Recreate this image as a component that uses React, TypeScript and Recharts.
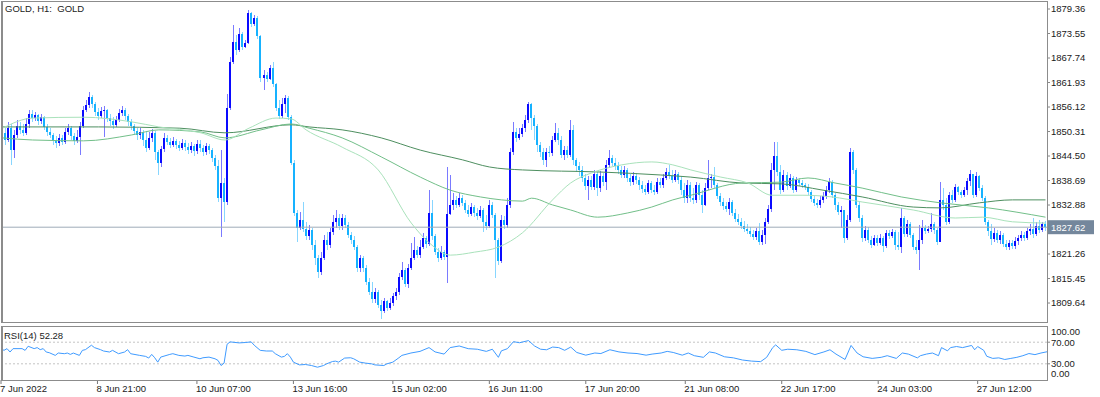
import { ComposedChart, Bar, Line, XAxis, YAxis, ReferenceLine } from 'recharts';

const FONT = "'Liberation Sans', Arial, sans-serif";
const BULL = '#0a0aff';
const BULL_WICK = '#7a7aff';
const BEAR = '#16b2ff';
const BEAR_WICK = '#88d6ff';

// GOLD H1 candles, 7 Jun - 27 Jun 2022 (open of each bar = previous close)
const firstOpen = 1846.6;
const closes = [
  1850.0, 1848.3, 1851.1, 1845.9, 1849.5, 1851.6, 1850.7, 1850.0, 1852.1, 1854.5,
  1853.5, 1854.2, 1852.8, 1853.7, 1851.4, 1850.2, 1849.5, 1848.3, 1847.6, 1848.8,
  1847.8, 1850.2, 1851.1, 1849.2, 1848.1, 1849.0, 1851.6, 1855.4, 1856.6, 1858.5,
  1856.8, 1854.9, 1853.9, 1855.2, 1855.4, 1853.5, 1852.8, 1851.9, 1853.0, 1854.7,
  1855.4, 1853.9, 1852.6, 1851.6, 1850.4, 1849.5, 1850.2, 1848.3, 1846.4, 1848.8,
  1850.0, 1845.4, 1842.8, 1846.2, 1848.8, 1847.8, 1847.1, 1848.1, 1847.1, 1846.4,
  1847.6, 1846.6, 1845.9, 1846.9, 1845.7, 1847.4, 1846.4, 1845.4, 1846.9, 1845.9,
  1844.0, 1842.1, 1834.5, 1838.1, 1833.6, 1855.9, 1866.8, 1871.5, 1869.6, 1873.4,
  1870.4, 1871.3, 1878.4, 1875.8, 1877.2, 1873.0, 1863.0, 1863.7, 1862.8, 1865.4,
  1861.6, 1855.9, 1853.9, 1856.8, 1858.3, 1853.7, 1842.8, 1831.0, 1827.4, 1829.3,
  1827.2, 1825.5, 1827.0, 1823.4, 1820.3, 1817.0, 1820.3, 1824.6, 1823.4, 1826.5,
  1828.9, 1829.8, 1827.9, 1829.8, 1828.1, 1825.8, 1824.6, 1822.9, 1817.9, 1820.3,
  1817.9, 1814.6, 1812.3, 1810.6, 1812.3, 1809.2, 1807.8, 1810.1, 1808.5, 1809.7,
  1811.3, 1812.3, 1815.8, 1817.5, 1814.2, 1817.9, 1820.3, 1822.2, 1821.0, 1822.9,
  1825.1, 1823.6, 1831.0, 1825.5, 1821.7, 1820.3, 1821.7, 1820.5, 1830.8, 1832.9,
  1834.1, 1832.9, 1834.5, 1833.4, 1831.7, 1830.8, 1832.4, 1831.0, 1830.3, 1831.7,
  1828.9, 1827.9, 1832.9, 1830.5, 1824.6, 1819.6, 1829.3, 1828.1, 1832.9, 1845.4,
  1850.2, 1848.8, 1849.7, 1851.1, 1853.0, 1856.8, 1853.5, 1851.6, 1847.1, 1845.4,
  1843.6, 1845.4, 1845.2, 1848.3, 1850.0, 1848.3, 1844.7, 1845.9, 1844.7, 1850.7,
  1843.6, 1842.1, 1841.2, 1839.3, 1837.4, 1838.8, 1837.2, 1840.2, 1836.9, 1839.8,
  1838.3, 1842.4, 1844.0, 1842.8, 1842.1, 1841.2, 1840.0, 1841.2, 1839.3, 1838.3,
  1839.8, 1838.8, 1837.6, 1836.7, 1836.0, 1838.1, 1836.4, 1836.0, 1838.3, 1837.6,
  1839.3, 1840.7, 1839.8, 1838.8, 1840.2, 1838.8, 1836.4, 1834.5, 1837.6, 1834.5,
  1834.1, 1837.6, 1835.2, 1832.9, 1836.9, 1839.3, 1839.5, 1837.6, 1835.0, 1833.6,
  1832.6, 1831.9, 1833.6, 1831.0, 1829.6, 1828.9, 1827.9, 1827.2, 1826.7, 1826.0,
  1825.3, 1826.7, 1824.1, 1825.8, 1828.9, 1831.9, 1841.2, 1844.5, 1840.7, 1836.4,
  1840.0, 1837.4, 1839.3, 1836.4, 1838.8, 1838.1, 1837.6, 1837.2, 1836.0, 1834.3,
  1833.4, 1832.9, 1834.1, 1835.0, 1836.4, 1838.3, 1835.2, 1832.9, 1831.2, 1831.7,
  1825.1, 1829.3, 1845.4, 1841.2, 1832.9, 1829.8, 1825.1, 1827.0, 1824.6, 1823.4,
  1825.1, 1823.9, 1825.1, 1823.2, 1826.3, 1825.5, 1826.5, 1823.4, 1822.9, 1829.8,
  1826.0, 1828.4, 1825.8, 1822.9, 1822.2, 1824.6, 1827.4, 1826.7, 1827.2, 1828.4,
  1827.0, 1824.1, 1834.1, 1832.9, 1828.9, 1835.2, 1834.1, 1837.2, 1836.0, 1835.2,
  1836.4, 1838.6, 1840.2, 1835.2, 1839.8, 1836.9, 1834.5, 1828.9, 1826.7, 1824.8,
  1826.3, 1824.6, 1825.8, 1823.6, 1822.9, 1823.9, 1823.2, 1824.4, 1825.1, 1825.8,
  1825.1, 1826.7, 1827.2, 1826.0, 1827.9, 1827.0, 1828.4, 1827.62,
];
const highs = [
  1851.9, 1851.1, 1852.6, 1852.1, 1850.7, 1853.0, 1852.6, 1852.1, 1853.5, 1855.4,
  1855.4, 1854.9, 1854.5, 1854.5, 1853.9, 1852.1, 1851.1, 1850.0, 1849.2, 1849.7,
  1849.5, 1851.1, 1852.1, 1851.6, 1850.0, 1850.7, 1852.6, 1856.4, 1857.8, 1859.7,
  1859.0, 1857.3, 1855.9, 1856.1, 1856.4, 1855.6, 1854.5, 1853.7, 1853.9, 1855.6,
  1856.4, 1855.9, 1854.5, 1853.3, 1852.1, 1851.1, 1851.1, 1850.7, 1850.4, 1850.2,
  1850.9, 1850.4, 1845.9, 1846.9, 1850.0, 1849.5, 1848.8, 1849.0, 1848.5, 1848.1,
  1848.5, 1848.3, 1847.6, 1847.8, 1847.4, 1848.3, 1848.3, 1847.1, 1847.6, 1847.4,
  1846.4, 1844.7, 1843.6, 1845.9, 1839.3, 1859.2, 1868.0, 1875.6, 1873.2, 1874.9,
  1873.9, 1872.0, 1879.1, 1878.6, 1877.9, 1877.7, 1873.2, 1864.9, 1864.4, 1866.1,
  1866.8, 1861.8, 1857.8, 1858.3, 1859.0, 1858.7, 1854.2, 1843.6, 1831.7, 1831.2,
  1833.6, 1828.9, 1828.1, 1827.4, 1824.6, 1821.0, 1821.7, 1825.8, 1826.5, 1827.4,
  1830.5, 1831.7, 1830.8, 1830.8, 1830.5, 1828.9, 1826.5, 1825.5, 1823.4, 1821.0,
  1820.8, 1818.7, 1815.6, 1814.6, 1813.2, 1812.7, 1810.4, 1810.8, 1810.4, 1810.8,
  1812.0, 1813.2, 1816.8, 1819.4, 1817.9, 1818.9, 1823.9, 1825.3, 1823.2, 1824.6,
  1826.3, 1825.5, 1836.4, 1834.1, 1826.0, 1822.7, 1823.2, 1822.2, 1841.9, 1840.0,
  1835.7, 1835.0, 1835.7, 1835.2, 1834.1, 1832.9, 1833.4, 1832.9, 1832.2, 1832.6,
  1832.2, 1830.5, 1834.1, 1833.6, 1831.0, 1825.1, 1830.5, 1830.3, 1834.5, 1846.4,
  1852.6, 1851.1, 1851.1, 1852.1, 1854.2, 1857.3, 1857.0, 1854.2, 1852.1, 1847.8,
  1846.4, 1846.4, 1846.9, 1849.2, 1852.3, 1851.1, 1849.2, 1846.9, 1846.9, 1853.0,
  1851.9, 1844.0, 1843.1, 1842.1, 1840.2, 1839.8, 1839.8, 1841.2, 1840.7, 1840.9,
  1840.5, 1843.6, 1845.9, 1844.7, 1844.0, 1843.1, 1842.1, 1842.1, 1841.7, 1840.2,
  1840.7, 1840.5, 1839.5, 1838.6, 1837.6, 1838.8, 1838.6, 1837.6, 1839.3, 1839.3,
  1840.2, 1841.7, 1842.4, 1841.2, 1841.2, 1840.7, 1839.8, 1838.1, 1838.8, 1838.3,
  1836.9, 1838.3, 1838.1, 1836.4, 1838.1, 1843.6, 1840.2, 1841.9, 1838.1, 1835.7,
  1834.5, 1833.6, 1834.5, 1834.1, 1831.9, 1830.8, 1829.8, 1829.1, 1828.4, 1827.7,
  1827.0, 1827.4, 1828.6, 1827.0, 1829.8, 1832.9, 1842.8, 1847.8, 1847.8, 1842.4,
  1841.2, 1840.7, 1840.2, 1839.8, 1839.5, 1839.3, 1838.8, 1838.1, 1837.9, 1836.4,
  1835.0, 1834.3, 1835.0, 1836.0, 1837.4, 1839.3, 1838.8, 1835.7, 1833.6, 1832.6,
  1831.7, 1830.5, 1846.4, 1845.9, 1841.7, 1833.6, 1830.5, 1827.9, 1827.7, 1825.5,
  1825.8, 1825.8, 1826.0, 1825.5, 1827.0, 1827.0, 1827.2, 1827.0, 1826.5, 1832.2,
  1830.3, 1829.3, 1828.9, 1826.3, 1824.6, 1828.1, 1829.3, 1828.1, 1827.9, 1831.0,
  1828.9, 1827.4, 1838.3, 1836.9, 1834.5, 1836.0, 1836.4, 1837.9, 1837.4, 1836.4,
  1837.2, 1839.3, 1841.2, 1840.2, 1840.7, 1840.0, 1837.6, 1835.0, 1829.3, 1828.4,
  1827.4, 1827.0, 1826.7, 1826.3, 1824.6, 1824.6, 1824.6, 1825.3, 1825.8, 1826.7,
  1826.5, 1827.4, 1828.4, 1829.8, 1828.9, 1829.3, 1828.9, 1829.1,
];
const lows = [
  1845.9, 1847.1, 1847.8, 1842.4, 1844.0, 1848.8, 1849.7, 1849.2, 1849.5, 1851.1,
  1852.6, 1852.8, 1851.9, 1852.1, 1850.7, 1849.2, 1848.8, 1847.1, 1846.4, 1846.9,
  1847.1, 1847.4, 1849.5, 1848.3, 1847.1, 1847.6, 1844.7, 1851.1, 1854.9, 1855.9,
  1855.9, 1853.9, 1853.0, 1853.5, 1849.0, 1852.6, 1851.6, 1850.9, 1851.4, 1852.6,
  1853.9, 1853.0, 1851.6, 1850.7, 1849.5, 1848.3, 1848.5, 1846.9, 1845.4, 1845.9,
  1847.8, 1843.6, 1840.0, 1841.9, 1845.4, 1847.1, 1846.4, 1846.6, 1846.2, 1845.7,
  1845.9, 1845.7, 1845.0, 1845.2, 1844.5, 1845.0, 1845.4, 1844.5, 1844.7, 1845.0,
  1843.1, 1841.2, 1833.6, 1825.3, 1828.9, 1832.9, 1855.4, 1866.3, 1868.5, 1869.2,
  1869.6, 1870.1, 1871.1, 1875.1, 1875.3, 1872.3, 1862.1, 1860.2, 1862.1, 1862.5,
  1860.9, 1855.2, 1853.3, 1853.5, 1854.7, 1853.0, 1842.4, 1830.3, 1824.1, 1827.0,
  1826.5, 1824.6, 1824.6, 1822.2, 1818.7, 1815.6, 1816.3, 1819.8, 1822.2, 1822.7,
  1825.8, 1827.4, 1827.0, 1827.0, 1827.4, 1825.1, 1823.6, 1822.2, 1817.0, 1817.0,
  1817.0, 1813.9, 1811.6, 1809.7, 1809.7, 1808.5, 1805.9, 1807.3, 1807.8, 1808.0,
  1808.9, 1810.4, 1811.6, 1815.1, 1813.5, 1813.2, 1817.5, 1819.8, 1820.3, 1820.3,
  1822.5, 1822.7, 1823.2, 1824.6, 1821.0, 1819.4, 1819.8, 1819.8, 1814.4, 1830.5,
  1831.7, 1832.2, 1832.4, 1832.6, 1831.0, 1830.0, 1830.3, 1830.0, 1829.3, 1829.8,
  1826.5, 1827.0, 1827.4, 1829.8, 1815.6, 1818.7, 1819.1, 1827.2, 1827.4, 1832.2,
  1844.7, 1847.8, 1848.3, 1849.0, 1850.2, 1852.3, 1850.7, 1848.3, 1845.4, 1844.3,
  1842.4, 1841.9, 1844.3, 1844.5, 1847.8, 1847.1, 1844.0, 1843.6, 1844.0, 1844.3,
  1842.4, 1840.7, 1839.8, 1838.3, 1836.4, 1834.1, 1836.4, 1836.4, 1835.0, 1836.0,
  1837.4, 1836.4, 1841.7, 1842.1, 1841.2, 1840.2, 1839.3, 1839.3, 1838.3, 1837.4,
  1837.6, 1837.9, 1836.4, 1835.7, 1835.2, 1835.5, 1835.7, 1835.2, 1835.5, 1836.9,
  1836.9, 1838.8, 1839.0, 1838.1, 1838.3, 1837.9, 1835.2, 1833.4, 1833.4, 1833.6,
  1833.1, 1833.4, 1834.1, 1831.0, 1832.6, 1836.4, 1836.9, 1836.9, 1834.3, 1832.6,
  1831.7, 1831.2, 1830.5, 1830.3, 1828.9, 1828.1, 1827.2, 1826.5, 1826.0, 1825.3,
  1824.6, 1824.6, 1823.4, 1823.4, 1823.6, 1828.4, 1831.2, 1836.4, 1839.8, 1835.5,
  1836.0, 1836.4, 1836.9, 1835.7, 1836.0, 1837.4, 1836.9, 1836.4, 1835.2, 1833.6,
  1832.6, 1832.2, 1832.2, 1833.4, 1834.3, 1835.7, 1834.5, 1831.7, 1830.5, 1827.4,
  1823.9, 1824.6, 1828.9, 1840.2, 1832.2, 1828.9, 1824.1, 1824.4, 1823.9, 1822.7,
  1823.2, 1823.2, 1823.4, 1821.7, 1822.7, 1824.8, 1825.1, 1822.2, 1822.2, 1821.5,
  1825.3, 1825.3, 1825.1, 1822.2, 1821.3, 1817.5, 1823.6, 1826.0, 1826.3, 1826.5,
  1826.0, 1823.4, 1824.1, 1831.7, 1828.1, 1828.4, 1833.4, 1833.6, 1835.2, 1834.5,
  1834.8, 1835.2, 1837.4, 1834.5, 1834.8, 1836.2, 1833.8, 1828.1, 1825.5, 1823.4,
  1824.1, 1823.9, 1823.6, 1822.9, 1822.2, 1822.2, 1822.5, 1822.5, 1823.4, 1824.4,
  1824.4, 1824.6, 1825.8, 1825.1, 1825.5, 1826.3, 1826.5, 1826.7,
];

// moving averages, read at [bar index, price]
const maSlow = [
  [0, 1851.4], [32, 1851.4], [59, 1851.1], [74, 1850.0], [96, 1851.9], [102, 1851.4],
  [113, 1850.7], [126, 1848.8], [139, 1845.9], [153, 1843.6], [162, 1841.9], [173, 1841.2],
  [199, 1840.7], [219, 1840.0], [229, 1839.5], [246, 1838.1], [259, 1837.9], [273, 1836.4],
  [286, 1834.8], [303, 1832.4], [312, 1832.2], [325, 1833.4], [336, 1834.1], [347, 1834.1],
];
const maMid = [
  [0, 1848.8], [10, 1848.3], [27, 1848.1], [43, 1849.5], [52, 1850.7], [66, 1850.2],
  [74, 1848.8], [86, 1850.7], [96, 1852.1], [102, 1851.1], [113, 1848.8], [126, 1844.3],
  [139, 1839.5], [149, 1836.4], [159, 1834.8], [166, 1834.1], [173, 1833.8], [176, 1834.5],
  [183, 1832.9], [189, 1831.7], [198, 1830.0], [208, 1831.0], [216, 1832.4], [223, 1834.1],
  [229, 1835.2], [246, 1838.1], [259, 1838.3], [268, 1839.3], [277, 1838.1], [286, 1836.9],
  [299, 1834.8], [312, 1833.4], [328, 1832.2], [347, 1830.0],
];
const maFast = [
  [0, 1851.1], [10, 1853.5], [27, 1853.7], [43, 1852.6], [52, 1851.4], [66, 1850.0],
  [74, 1848.3], [82, 1851.1], [91, 1853.5], [96, 1853.3], [101, 1850.7], [113, 1846.6],
  [125, 1841.2], [136, 1828.6], [142, 1823.9], [149, 1821.0], [157, 1821.7], [165, 1822.9],
  [173, 1826.3], [183, 1834.1], [189, 1838.1], [196, 1840.5], [206, 1842.4], [216, 1843.1],
  [223, 1842.4], [229, 1841.2], [239, 1839.5], [248, 1838.1], [256, 1835.2], [266, 1835.2],
  [276, 1834.8], [286, 1833.6], [303, 1831.7], [317, 1829.8], [326, 1830.0], [336, 1828.9],
  [347, 1828.6],
];

// RSI(14), read at [bar index, value]
const rsiPoints = [
  [0, 58.1], [1, 54.9], [2, 58.1], [3, 51.8], [4, 58.1], [7, 58.1], [8, 54.9], [9, 62.5],
  [11, 58.1], [12, 60.0], [13, 56.2], [14, 58.1], [15, 51.8], [16, 50.6], [18, 45.6], [19, 50.0],
  [21, 48.7], [22, 49.9], [23, 47.4], [24, 49.9], [26, 45.6], [27, 54.9], [28, 56.2], [30, 64.4],
  [31, 60.0], [33, 56.2], [34, 53.7], [36, 51.8], [37, 54.9], [39, 48.7], [41, 51.8], [42, 56.2],
  [43, 48.7], [46, 45.6], [48, 43.7], [49, 40.6], [50, 47.4], [51, 41.2], [52, 33.1], [53, 42.4],
  [56, 47.4], [57, 48.7], [59, 45.6], [61, 44.3], [62, 45.6], [64, 42.4], [66, 39.3], [67, 41.2],
  [69, 42.4], [71, 39.3], [72, 36.2], [73, 26.8], [74, 31.2], [75, 66.2], [76, 70.6], [79, 68.7],
  [81, 69.4], [83, 70.6], [84, 64.4], [86, 54.9], [88, 53.7], [90, 53.7], [91, 48.7], [93, 42.4],
  [94, 43.7], [95, 48.7], [96, 42.4], [97, 33.1], [99, 28.0], [101, 28.7], [103, 26.8], [105, 23.7],
  [107, 26.8], [108, 29.9], [110, 34.3], [111, 34.9], [112, 33.1], [114, 40.6], [116, 41.2], [117, 39.3],
  [119, 33.1], [121, 31.2], [123, 29.9], [124, 28.0], [127, 26.8], [128, 29.9], [130, 33.1], [132, 41.2],
  [133, 45.6], [136, 50], [139, 53], [142, 60], [144, 52], [147, 48], [149, 60], [152, 63],
  [155, 58], [158, 57], [161, 53], [163, 57], [165, 42], [166, 54], [168, 58], [170, 71],
  [172, 69], [175, 73], [177, 63], [179, 57], [181, 56], [183, 61], [185, 60], [187, 55],
  [189, 61], [191, 51], [194, 46], [197, 50], [199, 49], [202, 56], [205, 52], [208, 50],
  [211, 49], [214, 46], [216, 48], [219, 50], [221, 53], [223, 51], [226, 46], [228, 50],
  [230, 45], [233, 42], [235, 52], [237, 50], [240, 43], [243, 41], [246, 37], [249, 35],
  [252, 34], [254, 42], [256, 60], [257, 65], [259, 55], [261, 57], [264, 56], [267, 53],
  [270, 47], [273, 52], [275, 56], [277, 48], [280, 38], [282, 64], [284, 50], [286, 43],
  [289, 40], [292, 42], [294, 45], [297, 40], [299, 50], [301, 48], [304, 41], [305, 45],
  [307, 48], [309, 50], [311, 45], [312, 60], [314, 54], [315, 60], [317, 62], [319, 60],
  [322, 64], [323, 56], [324, 62], [326, 55], [327, 44], [329, 40], [331, 41], [333, 38],
  [335, 40], [337, 42], [339, 45], [341, 49], [343, 47], [345, 50], [347, 52.28],
];

const priceTicks = [1879.36, 1873.55, 1867.74, 1861.93, 1856.12, 1850.31, 1844.5, 1838.69, 1832.88, 1821.26, 1815.45, 1809.64];
const rsiTicks = [100, 70, 30, 0];
const timeTickIdx = [0, 32, 65, 97, 130, 162, 194, 227, 259, 291, 324];
const timeTickLabels = ['7 Jun 2022', '8 Jun 21:00', '10 Jun 07:00', '13 Jun 16:00', '15 Jun 02:00', '16 Jun 11:00', '17 Jun 20:00', '21 Jun 08:00', '22 Jun 17:00', '24 Jun 03:00', '27 Jun 12:00'];

const lastPrice = closes[closes.length - 1];
const lastRsi = rsiPoints[rsiPoints.length - 1][1];

const rows: any[] = closes.map((close, i) => ({
  i,
  open: i === 0 ? firstOpen : closes[i - 1],
  close,
  high: highs[i],
  low: lows[i],
  range: [lows[i], highs[i]],
  maSlow: null,
  maMid: null,
  maFast: null,
  rsi: null,
}));
maSlow.forEach(([i, v]) => (rows[i].maSlow = v));
maMid.forEach(([i, v]) => (rows[i].maMid = v));
maFast.forEach(([i, v]) => (rows[i].maFast = v));
rsiPoints.forEach(([i, v]) => (rows[i].rsi = v));

function Candle(props: any) {
  const { x, y, width, height, payload } = props;
  const { open, close, high, low } = payload;
  const top = Math.min(y, y + height);
  const h = Math.abs(height);
  const k = high > low ? h / (high - low) : 0;
  const yO = top + (high - open) * k;
  const yC = top + (high - close) * k;
  const up = close >= open;
  const cx = Math.floor(x + width / 2);
  const bTop = Math.min(yO, yC);
  const bH = Math.max(1, Math.abs(yC - yO));
  return (
    <g shapeRendering="crispEdges">
      <rect x={cx} y={top} width={1} height={Math.max(1, h)} fill={up ? BULL_WICK : BEAR_WICK} />
      <rect x={cx - 1} y={bTop} width={2} height={bH} fill={up ? BULL : BEAR} />
    </g>
  );
}

function PriceTag(props: any) {
  const vb = props.viewBox || {};
  const x0 = vb.x + vb.width + 1;
  return (
    <g>
      <rect x={x0} y={vb.y - 7} width={46} height={14} fill="#74879c" />
      <text x={x0 + 3} y={vb.y} dy="0.35em" fontSize={9.5} fontFamily={FONT} fill="#ffffff">
        {lastPrice.toFixed(2)}
      </text>
    </g>
  );
}

function TimeTick(props: any) {
  const { x, y, payload } = props;
  const k = timeTickIdx.indexOf(payload.value);
  return (
    <g>
      <line x1={x} x2={x} y1={y} y2={y + 4} stroke="#777" />
      <text x={x - 1} y={y + 12} fontSize={9.5} fontFamily={FONT} fill="#1a1a1a" textAnchor="start">
        {timeTickLabels[k]}
      </text>
    </g>
  );
}

function RsiTick(props: any) {
  const { x, y, payload } = props;
  const v = payload.value;
  const shift = v === 100 ? 6 : v === 0 ? -6 : 0;
  return (
    <g>
      {shift === 0 && <line x1={x - 4} x2={x - 1} y1={y} y2={y} stroke="#888" />}
      <text x={x} y={y + shift} dy="0.35em" fontSize={9.5} fontFamily={FONT} fill="#1a1a1a" textAnchor="start">
        {v.toFixed(2)}
      </text>
    </g>
  );
}

export default function App() {
  const box = { position: 'absolute' as const, left: 1, width: 1047, border: '1px solid #8c8c8c', boxSizing: 'border-box' as const };
  return (
    <div style={{ position: 'absolute', left: 0, top: 0, width: 1100, height: 397, background: '#fff', overflow: 'hidden', fontFamily: FONT }}>
      <div style={{ position: 'absolute', left: 0, top: 0 }}>
        <ComposedChart width={1100} height={323} data={rows} margin={{ top: 1, right: 0, bottom: 1, left: 1 }} barCategoryGap={0} barGap={0}>
          <XAxis dataKey="i" hide />
          <YAxis
            orientation="right"
            type="number"
            domain={[1805.14, 1881.26]}
            allowDataOverflow
            ticks={priceTicks}
            interval={0}
            tickFormatter={(v: number) => v.toFixed(2)}
            width={53}
            tickSize={3}
            tickMargin={1}
            axisLine={false}
            tickLine={{ stroke: '#888' }}
            tick={{ fontSize: 9.5, fill: '#1a1a1a', fontFamily: FONT }}
          />
          <ReferenceLine y={lastPrice} stroke="#9eabb9" label={<PriceTag />} />
          <Bar dataKey="range" shape={(p: any) => <Candle {...p} />} isAnimationActive={false} />
          <Line dataKey="maSlow" type="monotone" stroke="#4e8f60" strokeWidth={1} dot={false} connectNulls isAnimationActive={false} />
          <Line dataKey="maMid" type="monotone" stroke="#72bf89" strokeWidth={1} dot={false} connectNulls isAnimationActive={false} />
          <Line dataKey="maFast" type="monotone" stroke="#a9e2bb" strokeWidth={1} dot={false} connectNulls isAnimationActive={false} />
        </ComposedChart>
      </div>
      <div style={{ position: 'absolute', left: 0, top: 326 }}>
        <ComposedChart width={1100} height={71} data={rows} margin={{ top: 0, right: 0, bottom: 0, left: 1 }}>
          <XAxis dataKey="i" ticks={timeTickIdx} interval={0} height={17} tickSize={0} tickMargin={0} axisLine={false} tickLine={false} tick={<TimeTick />} />
          <YAxis orientation="right" type="number" domain={[0, 100]} ticks={rsiTicks} interval={0} width={53} tickSize={3} tickMargin={1} axisLine={false} tickLine={false} tick={<RsiTick />} />
          <ReferenceLine y={70} stroke="#c4c4c4" strokeDasharray="2 2" />
          <ReferenceLine y={30} stroke="#c4c4c4" strokeDasharray="2 2" />
          <Line dataKey="rsi" type="linear" stroke="#3f9bff" strokeWidth={1} dot={false} connectNulls isAnimationActive={false} />
        </ComposedChart>
      </div>
      <div style={{ ...box, top: 1, height: 322, borderLeftWidth: 2 }} />
      <div style={{ ...box, top: 326, height: 55, borderLeftWidth: 2 }} />
      <div style={{ position: 'absolute', left: 5, top: 3, fontSize: 9.5, color: '#222', whiteSpace: 'pre' }}>GOLD, H1:  GOLD</div>
      <div style={{ position: 'absolute', left: 4, top: 330, fontSize: 9.5, color: '#222' }}>RSI(14) {lastRsi.toFixed(2)}</div>
    </div>
  );
}
